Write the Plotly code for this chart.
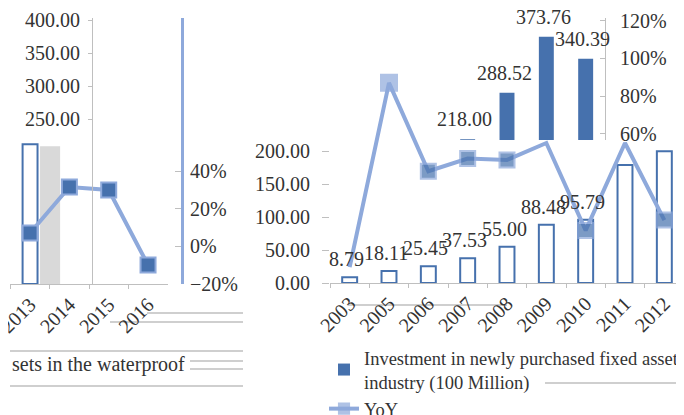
import plotly.graph_objects as go

# page body has an 8px margin: map reference pixels into the figure
OX, OY = 8, 8
W, H = 684 - OX, 415 - OY


def fx(p):
    return (p - OX) / W


def fy(p):
    return 1 - (p - OY) / H


# ---------------- data ----------------
years_right = ["2003", "2005", "2006", "2007", "2008", "2009", "2010", "2011", "2012"]
outline_values = [8.79, 18.11, 25.45, 37.53, 55.00, 88.48, 95.79, 179, 200]
outline_labels = ["8.79", "18.11", "25.45", "37.53", "55.00", "88.48", "95.79", None, None]
invest_values = [None, None, 202.83, 218.00, 288.52, 373.76, 340.39, None, None]
invest_labels = [None, None, "202.83", "218.00", "288.52", "373.76", "340.39", None, None]
yoy_right = [-0.11, 0.87, 0.40, 0.467, 0.46, 0.55, 0.085, 0.55, 0.14]

years_left = ["2013", "2014", "2015", "2016"]
outline_left = [212, None, None, None]
shade_left = [209, None, None, None]
yoy_left = [0.071, 0.316, 0.30, -0.099]

value_ticks = [0, 50, 100, 150, 200]
value_ticks_left = [250, 300, 350, 400]
pct_ticks_right = [0.6, 0.8, 1.0, 1.2]
pct_ticks_left = [-0.2, 0, 0.2, 0.4]

# ---------------- style ----------------
FONT = "Liberation Serif"
TXT = "#333333"
DARK = "#4671AD"
LIGHT = "#8EA9DB"
GRAY = "#BFBFBF"
PXU = 0.659  # pixels per value unit
PXP = 188.0  # pixels per 100 %

fig = go.Figure()

# left panel
fig.add_trace(go.Bar(x=years_left, y=shade_left, xaxis="x2", yaxis="y5",
                     marker=dict(color="#D9D9D9", line=dict(width=0)),
                     width=0.51, offset=0.254, showlegend=False, hoverinfo="skip"))
fig.add_trace(go.Bar(x=years_left, y=outline_left, xaxis="x2", yaxis="y5",
                     marker=dict(color="white", line=dict(color=DARK, width=2)),
                     width=0.38, showlegend=False))
fig.add_trace(go.Scatter(x=years_left, y=yoy_left, xaxis="x2", yaxis="y6",
                         mode="lines+markers",
                         line=dict(color=LIGHT, width=4),
                         marker=dict(symbol="square", size=15, color=DARK,
                                     line=dict(color=LIGHT, width=2)),
                         showlegend=False))

# right panel
fig.add_trace(go.Bar(x=years_right, y=outline_values, xaxis="x", yaxis="y",
                     marker=dict(color="white", line=dict(color=DARK, width=2)),
                     width=0.38, showlegend=False))
fig.add_trace(go.Bar(x=years_right, y=invest_values, xaxis="x", yaxis="y3",
                     marker=dict(color=DARK, line=dict(width=0)),
                     width=0.38,
                     name="Investment in newly purchased fixed assets in the waterproof<br>industry (100 Million)"))
# carrier so the visible percent axis (y2) gets drawn
fig.add_trace(go.Scatter(x=years_right, y=yoy_right, xaxis="x", yaxis="y2",
                         mode="none", showlegend=False, hoverinfo="skip"))
fig.add_trace(go.Scatter(x=years_right, y=yoy_right, xaxis="x", yaxis="y4",
                         mode="lines+markers", name="YoY",
                         line=dict(color=LIGHT, width=4),
                         marker=dict(symbol="square",
                                     size=[0, 16, 15, 15, 15, 0, 15, 0, 15],
                                     color=[LIGHT, LIGHT, DARK, DARK, DARK, DARK, DARK, DARK, DARK],
                                     line=dict(color=LIGHT, width=2))))

lab_font = dict(family=FONT, size=20, color=TXT)
annotations = []
for i, (v, t) in enumerate(zip(outline_values, outline_labels)):
    if t:
        annotations.append(dict(x=i, y=v, xref="x", yref="y", text=t, showarrow=False,
                                yshift=18, xshift=-3, font=lab_font))
for i, (v, t) in enumerate(zip(invest_values, invest_labels)):
    if t:
        annotations.append(dict(x=i, y=v, xref="x", yref="y3", text=t, showarrow=False,
                                yshift=20, xshift=-3, font=lab_font))
annotations.append(dict(x=fx(10), y=fy(364), xref="paper", yref="paper",
                        text="sets in the waterproof", showarrow=False,
                        xanchor="left", yanchor="middle", font=lab_font))

shapes = []
for (x0, x1, yy) in [(10, 243, 351), (190, 243, 361), (190, 243, 369), (10, 243, 386),
                     (147, 243, 313), (110, 243, 322), (348, 507, 305), (545, 684, 383)]:
    shapes.append(dict(type="line", xref="paper", yref="paper",
                       x0=fx(x0), x1=fx(x1), y0=fy(yy), y1=fy(yy),
                       line=dict(color=GRAY, width=1.5), layer="below"))

tickfont = dict(family=FONT, size=20, color=TXT)

y_dom = [fy(283), fy(18)]
y3_dom = [fy(140), fy(18)]
yl_dom = [fy(284), fy(18)]
zero_pct = 246.4

fig.update_layout(
    width=W, height=H,
    margin=dict(l=0, r=0, t=0, b=0, autoexpand=False),
    paper_bgcolor="white", plot_bgcolor="rgba(0,0,0,0)",
    barmode="overlay",
    font=dict(family=FONT, size=19, color=TXT),
    annotations=annotations,
    shapes=shapes,
    legend=dict(x=fx(324), y=fy(339), xanchor="left", yanchor="top",
                font=dict(family=FONT, size=18.5, color=TXT),
                bgcolor="rgba(0,0,0,0)", itemwidth=30, tracegroupgap=0,
                traceorder="normal"),
    # right panel axes
    xaxis=dict(domain=[fx(330), 1.0], anchor="y", type="category",
               categoryorder="array", categoryarray=years_right,
               range=[-0.5, len(years_right) - 0.5],
               showline=True, linecolor=GRAY, linewidth=1,
               ticks="outside", ticklen=4, tickcolor=GRAY, tickson="boundaries",
               tickangle=-45, tickfont=tickfont, showgrid=False),
    yaxis=dict(domain=y_dom, anchor="x", range=[0, 265 / PXU],
               tickvals=value_ticks, tickformat=".2f", tickfont=tickfont,
               ticks="outside", ticklen=7, tickcolor=GRAY, ticklabelstandoff=8,
               showline=False, showgrid=False, zeroline=False),
    yaxis3=dict(domain=y3_dom, anchor="x", range=[(283 - 140) / PXU, 265 / PXU],
                visible=False, showgrid=False, zeroline=False),
    yaxis2=dict(overlaying="y3", side="right", anchor="free", position=fx(605),
                range=[(zero_pct - 140) / PXP, (zero_pct - 18) / PXP],
                tickvals=pct_ticks_right, tickformat=".0%", tickfont=tickfont,
                showline=True, linecolor=GRAY, ticks="inside", ticklen=5,
                tickcolor=GRAY, ticklabelstandoff=10,
                showgrid=False, zeroline=False),
    yaxis4=dict(overlaying="y", anchor="x", side="right", visible=False,
                range=[-(283 - zero_pct) / PXP, (zero_pct - 18) / PXP],
                showgrid=False, zeroline=False),
    # left panel axes
    xaxis2=dict(domain=[fx(10.4), fx(167.7)], anchor="y5", type="category",
                categoryorder="array", categoryarray=years_left,
                range=[-0.5, len(years_left) - 0.5],
                showline=True, linecolor=GRAY, linewidth=1,
                ticks="outside", ticklen=4, tickcolor=GRAY, tickson="boundaries",
                tickangle=-45, tickfont=tickfont, showgrid=False),
    yaxis5=dict(domain=yl_dom, anchor="free", position=fx(92), range=[0, 266 / PXU],
                tickvals=value_ticks_left, tickformat=".2f", tickfont=tickfont,
                showline=True, linecolor=GRAY, ticks="outside", ticklen=4,
                tickcolor=GRAY, ticklabelstandoff=4,
                showgrid=False, zeroline=False),
    yaxis6=dict(overlaying="y5", side="right", anchor="free", position=fx(182),
                range=[-0.2, (284 - 18) / PXP - 0.2],
                tickvals=pct_ticks_left, tickformat=".0%", tickfont=tickfont,
                showline=True, linecolor=LIGHT, linewidth=3,
                ticks="inside", ticklen=6, tickcolor=GRAY, ticklabelstandoff=2,
                showgrid=False, zeroline=False),
)

fig.write_html("out.html")
